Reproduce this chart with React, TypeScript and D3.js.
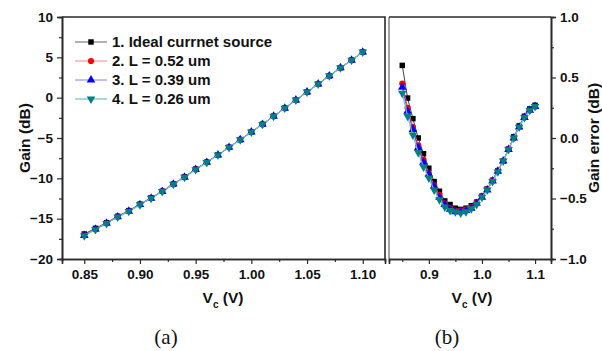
import React, { useEffect, useRef } from 'react';
import * as d3 from 'd3';

// control voltage (V)
const vc = [0.85, 0.86, 0.87, 0.88, 0.89, 0.90, 0.91, 0.92, 0.93, 0.94, 0.95, 0.96, 0.97,
  0.98, 0.99, 1.00, 1.01, 1.02, 1.03, 1.04, 1.05, 1.06, 1.07, 1.08, 1.09, 1.10];

// (a) gain in dB
const gainIdeal = [-16.9, -16.2, -15.5, -14.7, -14.0, -13.2, -12.4, -11.6, -10.7, -9.8, -8.85, -8.0, -7.1,
  -6.15, -5.2, -4.25, -3.3, -2.3, -1.3, -0.3, 0.7, 1.7, 2.7, 3.7, 4.65, 5.65];
const gainL052 = [-17.05, -16.3, -15.55, -14.75, -14.05, -13.25, -12.45, -11.6, -10.7, -9.85, -8.9, -8.0, -7.1,
  -6.15, -5.2, -4.25, -3.3, -2.3, -1.3, -0.3, 0.7, 1.7, 2.7, 3.7, 4.65, 5.65];
const gainL039 = [-17.08, -16.32, -15.57, -14.78, -14.07, -13.26, -12.46, -11.62, -10.72, -9.86, -8.91, -8.02, -7.11,
  -6.16, -5.21, -4.26, -3.31, -2.3, -1.3, -0.3, 0.7, 1.7, 2.7, 3.7, 4.65, 5.65];
const gainL026 = [-17.13, -16.36, -15.6, -14.8, -14.1, -13.28, -12.48, -11.63, -10.74, -9.87, -8.92, -8.03, -7.12,
  -6.17, -5.22, -4.26, -3.31, -2.31, -1.3, -0.3, 0.7, 1.7, 2.7, 3.7, 4.65, 5.65];

// (b) gain error in dB
const errIdeal = [0.6, 0.33, 0.16, 0.0, -0.13, -0.25, -0.36, -0.44, -0.52, -0.55, -0.58, -0.59, -0.58,
  -0.56, -0.53, -0.48, -0.42, -0.35, -0.27, -0.19, -0.09, 0.01, 0.1, 0.18, 0.24, 0.27];
const errL052 = [0.45, 0.25, 0.09, -0.06, -0.18, -0.29, -0.39, -0.47, -0.54, -0.58, -0.6, -0.6, -0.59,
  -0.57, -0.53, -0.48, -0.42, -0.35, -0.27, -0.19, -0.09, 0.0, 0.09, 0.17, 0.23, 0.26];
const errL039 = [0.42, 0.22, 0.07, -0.08, -0.2, -0.3, -0.4, -0.49, -0.55, -0.59, -0.61, -0.61, -0.6,
  -0.58, -0.54, -0.49, -0.43, -0.355, -0.275, -0.19, -0.095, 0.0, 0.09, 0.17, 0.23, 0.26];
const errL026 = [0.37, 0.18, 0.025, -0.12, -0.24, -0.33, -0.43, -0.51, -0.57, -0.6, -0.61, -0.62, -0.61,
  -0.585, -0.55, -0.49, -0.43, -0.36, -0.28, -0.19, -0.095, 0.0, 0.09, 0.17, 0.23, 0.26];

const seriesNames = ['1. Ideal currnet source', '2. L = 0.52 um', '3. L = 0.39 um', '4. L = 0.26 um'];
const gainSeries = [gainIdeal, gainL052, gainL039, gainL026];
const errSeries = [errIdeal, errL052, errL039, errL026];

const leftXTicks = [0.85, 0.90, 0.95, 1.00, 1.05, 1.10];
const leftYTicks = [-20, -15, -10, -5, 0, 5, 10];
const rightXTicks = [0.9, 1.0, 1.1];
const rightYTicks = [-1.0, -0.5, 0.0, 0.5, 1.0];

const markerColor = ['#000000', '#ff0000', '#0000ff', '#008080'];
const lineColor = ['#444444', '#ff5050', '#5050ff', '#78c0c0'];
const legendLine = ['#666666', '#ff8080', '#8080ff', '#a8d8d8'];
const FONT = 'Arial, Helvetica, "Liberation Sans", sans-serif';

const App = () => {
  const svgRef = useRef<SVGSVGElement>(null);

  useEffect(() => {
    const svg = d3.select(svgRef.current);
    svg.selectAll('*').remove();

    const top = 17, bottom = 259;
    const axisColor = '#2a2a2a';

    const marker = (g: any, i: number, x: number, y: number) => {
      const types = [d3.symbolSquare, d3.symbolCircle, d3.symbolTriangle, d3.symbolTriangle];
      const sizes = [30, 30, 32, 32];
      g.append('path')
        .attr('d', d3.symbol().type(types[i]).size(sizes[i])())
        .attr('transform', `translate(${x},${y})${i === 3 ? ' rotate(180)' : ''}`)
        .attr('fill', markerColor[i]);
    };

    const drawSeries = (g: any, x: any, y: any, series: number[][]) => {
      series.forEach((vals, i) => {
        const line = d3.line<number>().x((_, k) => x(vc[k])).y(d => y(d));
        g.append('path')
          .attr('d', line(vals))
          .attr('fill', 'none')
          .attr('stroke', lineColor[i])
          .attr('stroke-width', i === 3 ? 1.2 : 1);
        vals.forEach((v, k) => marker(g, i, x(vc[k]), y(v)));
      });
    };

    const styleAxis = (sel: any) => {
      sel.select('.domain').attr('stroke', axisColor).attr('stroke-width', 1.6);
      sel.selectAll('.tick line').attr('stroke', axisColor).attr('stroke-width', 1.2);
      sel.selectAll('text')
        .style('font-family', FONT)
        .style('font-size', '13.5px')
        .style('font-weight', 'bold')
        .attr('fill', '#111');
    };

    // ---------- (a) gain ----------
    const xa = d3.scaleLinear().domain([0.83, 1.12]).range([62, 385]);
    const ya = d3.scaleLinear().domain([-20, 10]).range([bottom, top]);

    // frame
    svg.append('path')
      .attr('d', `M62,${top}H385V${bottom}`)
      .attr('fill', 'none').attr('stroke', axisColor).attr('stroke-width', 1.6);

    // minor ticks
    const ga = svg.append('g');
    ga.append('g').attr('transform', `translate(0,${bottom})`)
      .call(d3.axisBottom(xa).tickValues([0.875, 0.925, 0.975, 1.025, 1.075]).tickSize(3).tickFormat(() => ''))
      .call(styleAxis);
    ga.append('g').attr('transform', 'translate(62,0)')
      .call(d3.axisLeft(ya).tickValues([-17.5, -12.5, -7.5, -2.5, 2.5, 7.5]).tickSize(3).tickFormat(() => ''))
      .call(styleAxis);
    ga.append('g').attr('transform', `translate(0,${bottom})`)
      .call(d3.axisBottom(xa).tickValues(leftXTicks).tickSize(5).tickPadding(5).tickFormat(d3.format('.2f')))
      .call(styleAxis);
    ga.append('g').attr('transform', 'translate(62,0)')
      .call(d3.axisLeft(ya).tickValues(leftYTicks).tickSize(5).tickPadding(4).tickFormat(d3.format('d')))
      .call(styleAxis);

    drawSeries(svg.append('g'), xa, ya, gainSeries);

    // legend
    const lg = svg.append('g');
    seriesNames.forEach((name, i) => {
      const ly = 42 + i * 19;
      lg.append('line')
        .attr('x1', 75).attr('x2', 107).attr('y1', ly).attr('y2', ly)
        .attr('stroke', legendLine[i]).attr('stroke-width', i === 3 ? 2 : 1);
      marker(lg, i, 91, ly);
      lg.append('text')
        .attr('x', 112).attr('y', ly).attr('dy', '0.36em')
        .style('font-family', FONT).style('font-size', '15px').style('font-weight', 'bold')
        .attr('fill', '#111')
        .text(name);
    });

    // ---------- (b) gain error ----------
    const xb = d3.scaleLinear().domain([0.825, 1.13]).range([389, 551]);
    const yb = d3.scaleLinear().domain([-1, 1]).range([bottom, top]);

    svg.append('path')
      .attr('d', `M389,${bottom}V${top}`)
      .attr('fill', 'none').attr('stroke', '#8a8a8a').attr('stroke-width', 1.6);
    svg.append('path')
      .attr('d', `M389,${top}H551`)
      .attr('fill', 'none').attr('stroke', axisColor).attr('stroke-width', 1.6);

    const gb = svg.append('g');
    gb.append('g').attr('transform', `translate(0,${bottom})`)
      .call(d3.axisBottom(xb).tickValues([0.85, 0.95, 1.05]).tickSize(3).tickFormat(() => ''))
      .call(styleAxis);
    gb.append('g').attr('transform', 'translate(551,0)')
      .call(d3.axisRight(yb).tickValues([-0.75, -0.25, 0.25, 0.75]).tickSize(3).tickFormat(() => ''))
      .call(styleAxis);
    gb.append('g').attr('transform', `translate(0,${bottom})`)
      .call(d3.axisBottom(xb).tickValues(rightXTicks).tickSize(5).tickPadding(5).tickFormat(d3.format('.1f')))
      .call(styleAxis);
    gb.append('g').attr('transform', 'translate(551,0)')
      .call(d3.axisRight(yb).tickValues(rightYTicks).tickSize(5).tickPadding(4).tickFormat(d3.format('.1f')))
      .call(styleAxis);

    drawSeries(svg.append('g'), xb, yb, errSeries);

    // ---------- titles ----------
    const title = (x: number, y: number, rot: boolean, text: string) => {
      svg.append('text')
        .attr('transform', `translate(${x},${y})${rot ? ' rotate(-90)' : ''}`)
        .attr('text-anchor', 'middle')
        .style('font-family', FONT).style('font-size', '15.5px').style('font-weight', 'bold')
        .attr('fill', '#111')
        .text(text);
    };
    title(30, 138, true, 'Gain (dB)');
    title(599, 138, true, 'Gain error (dB)');

    const vcLabel = (cx: number) => {
      const t = svg.append('text')
        .attr('x', cx).attr('y', 303)
        .attr('text-anchor', 'middle')
        .style('font-family', FONT).style('font-size', '15.5px').style('font-weight', 'bold')
        .attr('fill', '#111');
      t.append('tspan').text('V');
      t.append('tspan').attr('dy', 5).style('font-size', '10px').text('c');
      t.append('tspan').attr('dy', -5).text(' (V)');
    };
    vcLabel(223);
    vcLabel(472);

    const panelLabel = (cx: number, text: string) => {
      svg.append('text')
        .attr('x', cx).attr('y', 344)
        .attr('text-anchor', 'middle')
        .style('font-family', '"Times New Roman", "Liberation Serif", serif')
        .style('font-size', '21px')
        .attr('fill', '#111')
        .text(text);
    };
    panelLabel(166, '(a)');
    panelLabel(447, '(b)');
  }, []);

  return (
    <svg
      ref={svgRef}
      width={602}
      height={351}
      style={{ position: 'absolute', left: 0, top: 0, background: '#fff', display: 'block' }}
    />
  );
};

export default App;
